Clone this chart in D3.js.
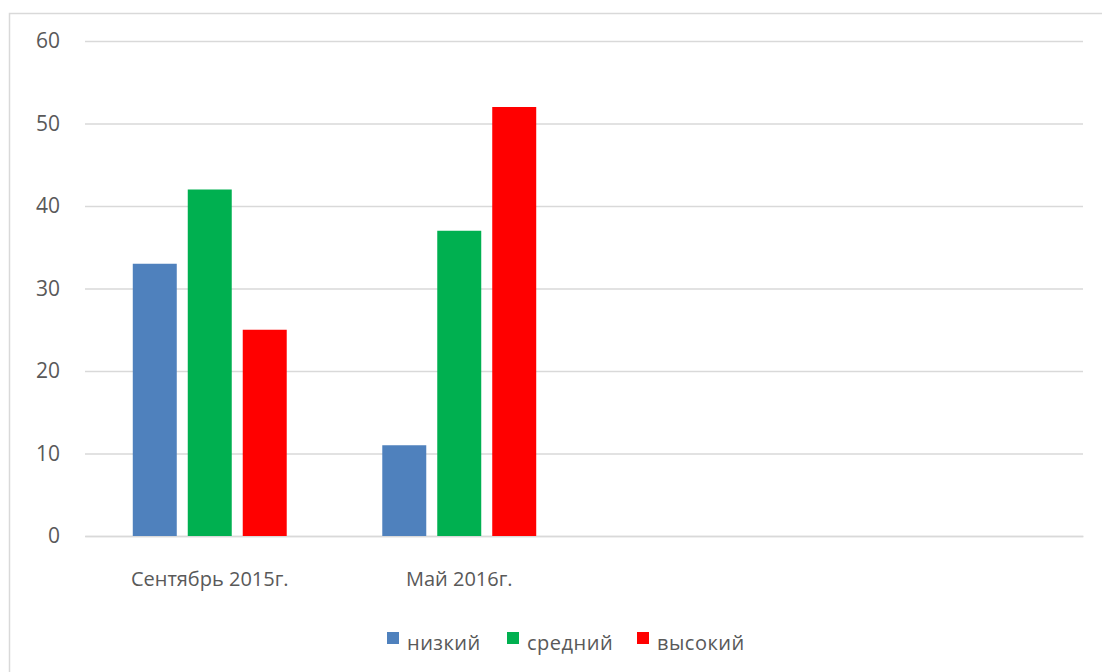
<!DOCTYPE html>
<html><head><meta charset="utf-8">
<script src="https://cdn.jsdelivr.net/npm/d3@7"></script>
<style>body{margin:0;background:#fff}svg{display:block}text{font-family:"Open Sans",sans-serif;fill:#595959}</style>
</head><body><svg id="c" width="1102" height="672"></svg>
<script>
const categories = ["Сентябрь 2015г.", "Май 2016г.", "", ""];
const seriesNames = ["низкий", "средний", "высокий"];
const seriesColors = ["#4f81bd", "#00b050", "#ff0000"];
const nizkiy = [33, 11, null, null];
const sredniy = [42, 37, null, null];
const vysokiy = [25, 52, null, null];
const yTicks = [0, 10, 20, 30, 40, 50, 60];

const series = [nizkiy, sredniy, vysokiy];
const svg = d3.select("#c");
const L = 85, R = 1083, T = 41, B = 536;

svg.append("rect").attr("x", 9.5).attr("y", 13.5).attr("width", 1200).attr("height", 800)
  .attr("fill", "none").attr("stroke", "#d9d9d9").attr("stroke-width", 1.5);

const y = d3.scaleLinear().domain([0, 60]).range([B, T]);
const x0 = d3.scaleBand().domain(d3.range(categories.length)).range([L, R]).paddingInner(0.383).paddingOuter(0.1915);
const x1 = d3.scaleBand().domain(d3.range(series.length)).range([0, x0.bandwidth()]).paddingInner(0.2);

const yAxis = d3.axisLeft(y).tickValues(yTicks).tickSize(-(R - L)).tickPadding(25);
const gy = svg.append("g").attr("transform", `translate(${L},0)`).call(yAxis);
gy.select(".domain").remove();
gy.selectAll(".tick line").attr("stroke", "#d9d9d9").attr("stroke-width", 1.3);
gy.selectAll(".tick text").style("font-size", "21px").attr("fill", "#595959");

const xAxis = d3.axisBottom(d3.scaleBand().domain(categories.map((c, i) => i)).range([L, R]).padding(0)).tickSize(0).tickFormat(i => categories[i]).tickPadding(36);
const gx = svg.append("g").attr("transform", `translate(0,${B})`).call(xAxis);
gx.select(".domain").attr("stroke", "#d9d9d9").attr("stroke-width", 1.3);
gx.selectAll(".tick text").style("font-size", "20px").attr("fill", "#595959");

series.forEach((vals, s) => {
  svg.append("g").selectAll("rect").data(vals.map((v, i) => ({v, i})).filter(d => d.v != null))
    .join("rect")
    .attr("x", d => x0(d.i) + x1(s))
    .attr("width", x1.bandwidth())
    .attr("y", d => y(d.v))
    .attr("height", d => B - y(d.v))
    .attr("fill", seriesColors[s]);
});

const legendX = [387, 507, 637];
const lg = svg.append("g");
seriesNames.forEach((n, s) => {
  lg.append("rect").attr("x", legendX[s]).attr("y", 632).attr("width", 12).attr("height", 12).attr("fill", seriesColors[s]);
  lg.append("text").attr("x", legendX[s] + 20).attr("y", 650).style("font-size", "20px").style("letter-spacing", "0.5px").text(n);
});
</script></body></html>
